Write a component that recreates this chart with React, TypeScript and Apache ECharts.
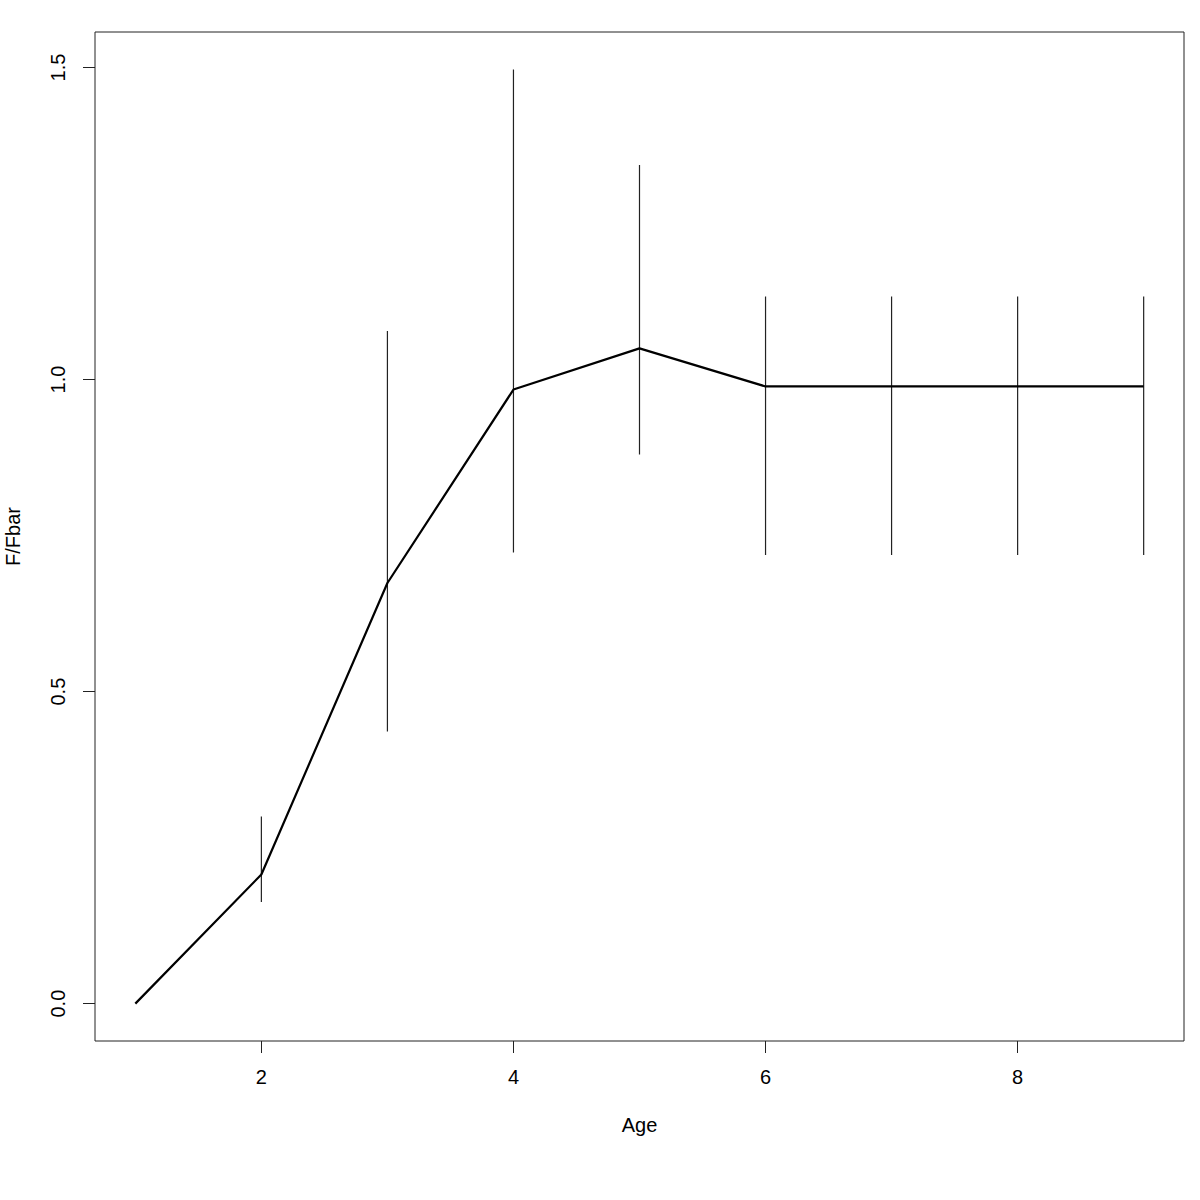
import React, { useEffect, useRef } from "react";
import * as echarts from "echarts";

const ages = [1, 2, 3, 4, 5, 6, 7, 8, 9];
const ratio = [0, 0.207, 0.674, 0.984, 1.05, 0.989, 0.989, 0.989, 0.989];
const lower = [0, 0.163, 0.436, 0.723, 0.88, 0.719, 0.719, 0.719, 0.719];
const upper = [0, 0.3, 1.078, 1.497, 1.344, 1.133, 1.133, 1.133, 1.133];
const errAges = [2, 3, 4, 5, 6, 7, 8, 9];
const xTicks = [2, 4, 6, 8];
const yTicks = [0, 0.5, 1, 1.5];

const FONT = '"Liberation Sans", Arial, Helvetica, sans-serif';

export default function App() {
  const ref = useRef<HTMLDivElement>(null);
  useEffect(() => {
    if (!ref.current) return;
    const chart = echarts.init(ref.current, null, { renderer: "svg" });
    const errData = errAges.map((a) => {
      const i = ages.indexOf(a);
      return [a, lower[i], upper[i]];
    });
    chart.setOption({
      animation: false,
      backgroundColor: "#ffffff",
      textStyle: { fontFamily: FONT },
      grid: {
        left: 95,
        right: 16,
        top: 32,
        bottom: 159,
        containLabel: false,
        outerBoundsMode: "none",
        show: true,
        borderColor: "#222",
        borderWidth: 1,
        backgroundColor: "transparent",
      },
      xAxis: {
        type: "value",
        min: 0.68,
        max: 9.32,
        name: "Age",
        nameLocation: "middle",
        nameGap: 74,
        nameTextStyle: { fontSize: 20, color: "#000", fontFamily: FONT },
        axisLine: { show: false, onZero: false },
        splitLine: { show: false },
        axisTick: {
          show: true,
          customValues: xTicks,
          length: 12,
          lineStyle: { color: "#222", width: 1 },
        },
        axisLabel: {
          customValues: xTicks,
          margin: 26,
          fontSize: 20,
          color: "#000",
          fontFamily: FONT,
        },
      },
      yAxis: {
        type: "value",
        min: -0.0599,
        max: 1.557,
        name: "F/Fbar",
        nameLocation: "middle",
        nameRotate: 90,
        nameGap: 72,
        nameTextStyle: { fontSize: 20, color: "#000", fontFamily: FONT },
        axisLine: { show: false, onZero: false },
        splitLine: { show: false },
        axisTick: {
          show: true,
          customValues: yTicks,
          length: 12,
          lineStyle: { color: "#222", width: 1 },
        },
        axisLabel: {
          customValues: yTicks,
          rotate: 90,
          margin: 27,
          fontSize: 20,
          color: "#000",
          fontFamily: FONT,
          formatter: (v: number) => v.toFixed(1),
        },
      },
      series: [
        {
          type: "custom",
          data: errData,
          silent: true,
          renderItem: (params: any, api: any) => {
            const x = api.value(0);
            const p1 = api.coord([x, api.value(1)]);
            const p2 = api.coord([x, api.value(2)]);
            return {
              type: "line",
              shape: { x1: p1[0], y1: p1[1], x2: p2[0], y2: p2[1] },
              style: { stroke: "#222", lineWidth: 1.2 },
            };
          },
          z: 1,
        },
        {
          type: "line",
          data: ages.map((a, i) => [a, ratio[i]]),
          showSymbol: false,
          symbol: "none",
          lineStyle: { color: "#000", width: 2.2 },
          silent: true,
          z: 2,
        },
      ],
    });
    return () => chart.dispose();
  }, []);
  return (
    <div
      ref={ref}
      style={{ position: "absolute", left: 0, top: 0, width: 1200, height: 1200 }}
    />
  );
}
